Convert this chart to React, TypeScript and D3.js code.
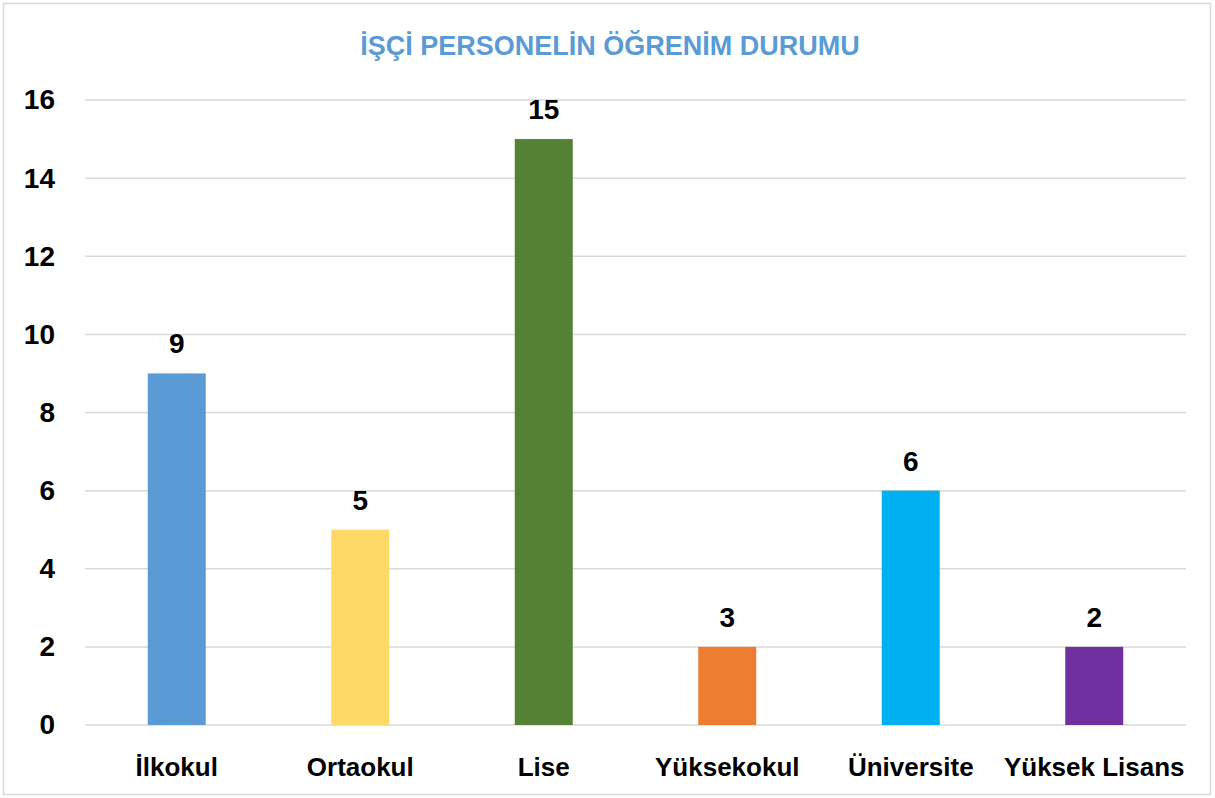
import React, { useEffect, useRef } from "react";
import * as d3 from "d3";

// Data
const categories = ["İlkokul", "Ortaokul", "Lise", "Yüksekokul", "Üniversite", "Yüksek Lisans"];
const barValues = [9, 5, 15, 2, 6, 2];
const valueLabels = ["9", "5", "15", "3", "6", "2"];
const barColors = ["#5b9bd5", "#ffd966", "#548235", "#ed7d31", "#00b0f0", "#7030a0"];
const yTicks = [0, 2, 4, 6, 8, 10, 12, 14, 16];
const title = "İŞÇİ PERSONELİN ÖĞRENİM DURUMU";

const W = 1215;
const H = 798;
const FONT = "'Liberation Sans', Arial, sans-serif";

const App = () => {
  const svgRef = useRef<SVGSVGElement>(null);

  useEffect(() => {
    const margin = { top: 100, right: 29, bottom: 73, left: 85 };

    d3.select(svgRef.current).selectAll("*").remove();
    const svg = d3.select(svgRef.current).attr("viewBox", `0 0 ${W} ${H}`);

    // chart frame
    svg
      .append("rect")
      .attr("x", 3.5)
      .attr("y", 3.5)
      .attr("width", W - 8)
      .attr("height", H - 7)
      .attr("fill", "#fff")
      .attr("stroke", "#d9d9d9")
      .attr("stroke-width", 1.5);

    const x = d3
      .scaleBand()
      .domain(categories)
      .range([margin.left, W - margin.right])
      .paddingInner(0.684)
      .paddingOuter(0.342);

    const y = d3
      .scaleLinear()
      .domain([0, 16])
      .range([H - margin.bottom, margin.top]);

    // title
    svg
      .append("text")
      .attr("x", 610)
      .attr("y", 55)
      .attr("text-anchor", "middle")
      .style("font-family", FONT)
      .style("font-weight", "bold")
      .style("font-size", "27px")
      .style("fill", "#5b9bd5")
      .text(title);

    // gridlines
    svg
      .append("g")
      .selectAll("line")
      .data(yTicks)
      .join("line")
      .attr("x1", margin.left)
      .attr("x2", W - margin.right)
      .attr("y1", (d) => y(d))
      .attr("y2", (d) => y(d))
      .attr("stroke", "#d9d9d9")
      .attr("stroke-width", 1.5);

    // y axis labels
    const yAxis = d3.axisLeft(y).tickValues(yTicks).tickSize(0).tickPadding(0);
    svg
      .append("g")
      .attr("transform", `translate(55,0)`)
      .call(yAxis)
      .call((g) => g.select(".domain").remove())
      .call((g) =>
        g
          .selectAll("text")
          .style("font-family", FONT)
          .style("font-weight", "bold")
          .style("font-size", "28px")
          .attr("fill", "#000")
      );

    // bars
    svg
      .append("g")
      .selectAll("rect")
      .data(barValues)
      .join("rect")
      .attr("x", (_, i) => x(categories[i])!)
      .attr("y", (d) => y(d))
      .attr("width", x.bandwidth())
      .attr("height", (d) => y(0) - y(d))
      .attr("fill", (_, i) => barColors[i]);

    // value labels
    svg
      .append("g")
      .selectAll("text")
      .data(barValues)
      .join("text")
      .attr("x", (_, i) => x(categories[i])! + x.bandwidth() / 2)
      .attr("y", (d) => y(d) - 20)
      .attr("text-anchor", "middle")
      .style("font-family", FONT)
      .style("font-weight", "bold")
      .style("font-size", "28px")
      .style("fill", "#000")
      .text((_, i) => valueLabels[i]);

    // category labels
    const xAxis = d3.axisBottom(x).tickSize(0).tickPadding(0);
    svg
      .append("g")
      .attr("transform", `translate(0,776)`)
      .call(xAxis)
      .call((g) => g.select(".domain").remove())
      .call((g) =>
        g
          .selectAll("text")
          .attr("y", 0)
          .attr("dy", null)
          .style("font-family", FONT)
          .style("font-weight", "bold")
          .style("font-size", "26px")
          .attr("fill", "#000")
      );
  }, []);

  return (
    <svg
      ref={svgRef}
      width={W}
      height={H}
      style={{ position: "absolute", left: 0, top: 0 }}
    ></svg>
  );
};

export default App;
